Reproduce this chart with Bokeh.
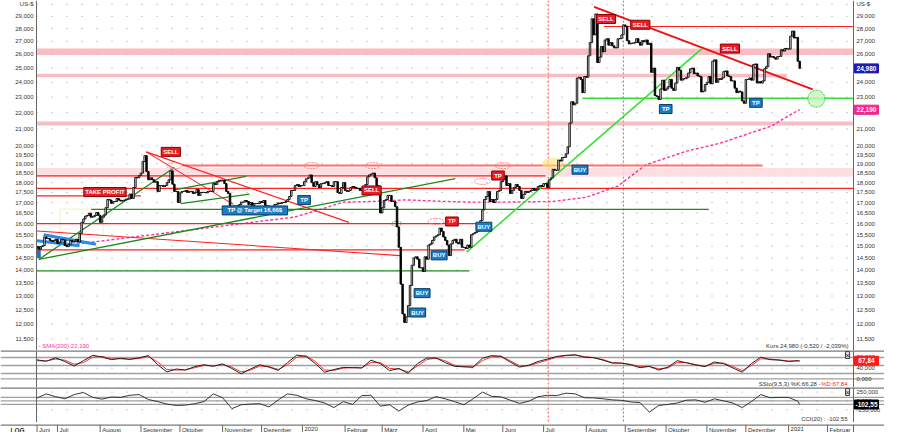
import pandas as pd
from bokeh.plotting import figure
from bokeh.layouts import column
from bokeh.models import Range1d, BoxAnnotation, Span, Label, ColumnDataSource
from bokeh.embed import file_html
from bokeh.resources import INLINE
from bokeh.core.properties import value

FONT = "Liberation Sans"

# ---------------- daily closes (US-$), one list per month ----------------
c_2019_06 = [14.97, 14.87, 14.98, 15.02, 15.40, 15.33, 15.33, 15.25, 15.21, 15.25, 15.30]
c_2019_07 = [15.12, 15.17, 15.29, 15.27, 15.03, 14.98, 15.06, 15.25, 15.18, 15.19, 15.30, 15.18,
             15.56, 16.06, 16.22, 16.35, 16.38, 16.49, 16.30, 16.32, 16.38, 16.52, 16.39]
c_2019_08 = [16.06, 16.30, 16.40, 16.75, 17.15, 17.12, 16.96, 17.05, 17.05, 17.20, 17.12, 17.07,
             17.10, 17.12, 17.17, 17.17, 17.42, 17.20, 17.75, 18.27, 18.25, 18.37]
c_2019_09 = [18.50, 19.12, 19.45, 18.58, 18.15, 18.25, 18.15, 18.02, 18.05, 17.55, 17.85, 17.85,
             17.80, 17.85, 18.00, 18.15, 18.62, 17.92, 17.55, 17.55, 17.00]
c_2019_10 = [17.48, 17.55, 17.55, 17.60, 17.50, 17.55, 17.55, 17.45, 17.50, 17.65, 17.35, 17.50,
             17.50, 17.50, 17.48, 17.55, 17.55, 17.55, 17.95, 17.90, 18.05, 18.12, 18.12]
c_2019_11 = [18.12, 17.95, 17.55, 17.45, 16.70, 16.82, 16.83, 16.78, 16.85, 16.90, 17.02, 17.02,
             17.10, 17.05, 16.90, 17.00, 16.85, 16.95, 16.95, 16.95, 17.05]
c_2019_12 = [17.00, 17.10, 16.85, 16.83, 16.55, 16.65, 16.72, 16.90, 16.92, 16.98, 16.95, 17.00,
             17.00, 17.05, 17.15, 17.30, 17.60, 17.60, 17.85, 17.90, 17.80, 17.85]
c_2020_01 = [17.85, 18.05, 18.20, 18.25, 18.40, 18.00, 17.80, 18.05, 17.90, 17.75, 17.95, 17.95,
             18.00, 18.05, 17.85, 17.85, 17.80, 18.05, 18.05, 17.50, 17.45, 17.75, 18.00]
c_2020_02 = [17.60, 17.55, 17.60, 17.75, 17.80, 17.75, 17.70, 17.70, 17.60, 17.70, 17.75, 17.90,
             18.30, 18.40, 18.45, 18.50, 18.25, 17.85, 17.50, 16.50]
c_2020_03 = [16.75, 17.10, 17.15, 17.35, 17.35, 17.05, 17.05, 16.80, 15.85, 14.95, 13.45, 12.35,
             12.05, 12.25, 12.65, 13.40, 14.20, 14.50, 14.55, 14.45, 14.10, 14.10]
c_2020_04 = [13.95, 14.55, 14.45, 15.05, 15.10, 15.25, 15.40, 15.45, 15.50, 15.80, 15.65, 15.40,
             15.25, 15.05, 14.60, 15.10, 15.25, 15.30, 15.15, 15.10, 15.30, 14.95]
c_2020_05 = [14.95, 14.90, 15.05, 14.95, 15.50, 15.55, 15.60, 15.65, 15.75, 16.15, 16.65, 17.15,
             17.30, 17.55, 17.05, 17.15, 17.00, 17.15, 17.55, 17.60, 18.05]
c_2020_06 = [18.15, 18.35, 17.85, 17.95, 17.45, 17.60, 17.75, 17.90, 17.80, 17.60, 17.20, 17.40,
             17.55, 17.50, 17.55, 17.60, 17.70, 17.60, 17.65, 17.80, 17.85, 17.80]
c_2020_07 = [17.95, 17.95, 17.75, 18.15, 18.25, 18.70, 18.65, 18.65, 19.20, 19.15, 19.35, 19.35,
             19.55, 19.95, 21.35, 22.70, 22.50, 22.60, 24.30, 24.35, 24.20, 23.30, 24.40]
c_2020_08 = [24.35, 25.90, 26.90, 28.80, 27.50, 29.20, 25.40, 25.80, 26.60, 26.20, 27.10, 27.20,
             26.70, 26.90, 26.65, 26.50, 26.50, 27.20, 27.20, 27.50, 28.30]
c_2020_09 = [28.20, 27.05, 26.80, 26.85, 26.85, 26.90, 27.20, 26.90, 26.70, 27.05, 26.95, 27.10,
             26.75, 26.85, 24.70, 25.00, 23.10, 23.05, 22.85, 23.55, 24.15, 23.45]
c_2020_10 = [23.55, 23.70, 24.20, 23.60, 23.45, 23.95, 25.05, 24.85, 24.15, 24.25, 24.25, 24.35,
             24.65, 24.95, 25.00, 24.60, 24.65, 24.45, 24.40, 23.35, 23.40, 23.85]
c_2020_11 = [24.00, 24.40, 23.90, 25.50, 25.60, 24.00, 24.25, 24.20, 24.30, 24.75, 24.80, 24.45,
             24.40, 24.10, 24.10, 23.60, 23.30, 23.40, 23.35, 22.75, 22.60]
c_2020_12 = [24.20, 24.20, 24.30, 24.15, 25.25, 25.30, 23.95, 24.05, 23.95, 24.10, 24.95, 25.10,
             26.05, 25.80, 25.85, 25.75, 25.65, 25.85, 25.85, 26.35, 26.25, 26.45, 26.40]
c_2021_01 = [26.40, 27.40, 27.80, 27.25, 27.30, 25.50, 24.98]

closes = (c_2019_06 + c_2019_07 + c_2019_08 + c_2019_09 + c_2019_10 + c_2019_11 + c_2019_12 +
          c_2020_01 + c_2020_02 + c_2020_03 + c_2020_04 + c_2020_05 + c_2020_06 + c_2020_07 +
          c_2020_08 + c_2020_09 + c_2020_10 + c_2020_11 + c_2020_12 + c_2021_01)

calendar = pd.bdate_range("2019-06-14", "2021-02-26")   # trading-day axis
month_labels = ["Juni", "Juli", "August", "September", "Oktober", "November", "Dezember",
                "2020", "Februar", "März", "April", "Mai", "Juni", "Juli", "August",
                "September", "Oktober", "November", "Dezember", "2021", "Februar"]

# SMA(200) (trading day, value)
sma_day = [16, 60, 139, 156, 165, 181, 199, 217, 234, 252, 278, 296, 313, 328, 350, 368, 386, 396, 403, 411]
sma_val = [15.04, 15.48, 16.31, 16.76, 17.02, 17.05, 17.13, 17.06, 17.02, 17.02, 17.05, 17.26,
           17.82, 18.94, 19.70, 20.15, 20.81, 21.18, 21.67, 22.19]

# oscillators sampled weekly (every 5th trading day) plus the last day
sto_k = [71, 66, 79, 65, 48, 68, 88, 82, 72, 77, 73, 79, 87, 53, 26, 37, 33, 46, 53, 47,
         56, 39, 19, 37, 53, 44, 32, 61, 89, 84, 57, 25, 35, 43, 42, 41, 70, 57, 31, 39,
         21, 57, 78, 78, 61, 47, 45, 44, 77, 87, 84, 63, 44, 51, 65, 74, 84, 88, 90, 81,
         79, 70, 59, 59, 53, 42, 47, 33, 44, 68, 60, 52, 46, 63, 57, 41, 25, 57, 81, 72,
         70, 65, 68, 66.28]
sto_d = [68, 67, 74, 70, 55, 61, 81, 84, 75, 75, 74, 76, 84, 63, 35, 33, 34, 42, 50, 49,
         53, 44, 26, 33, 48, 46, 35, 53, 81, 86, 65, 33, 32, 40, 42, 41, 61, 61, 39, 37,
         26, 48, 72, 78, 67, 51, 46, 44, 68, 83, 85, 68, 49, 49, 60, 70, 81, 87, 89, 83,
         80, 72, 61, 59, 54, 46, 46, 38, 41, 61, 61, 53, 47, 58, 59, 46, 31, 50, 75, 74,
         71, 67, 67, 67.84]
cci = [84, 200, 120, 60, 180, 240, 100, 50, 110, 100, 160, 180, 40, -20, -90, -130, -120, -80, -20, 200,
       90, -220, -110, -90, -80, -170, 30, 200, 160, 60, 10, -60, -190, -20, -100, 150, 160, -150, -110, -290,
       -120, -30, 10, 120, 60, -20, -110, 60, 250, 130, 115, 20, -70, -10, 120, 160, 150, 220, 200, 90,
       84, 60, 30, 15, -30, -50, -320, -130, -100, -60, 20, 30, -40, 60, 0, -60, -190, -20, 180, 90,
       100, 100, -10, -102.55]

# axis ticks
price_ticks = [11.5, 12.0, 12.5, 13.0, 13.5, 14.0, 14.5, 15.0, 15.5, 16.0, 16.5, 17.0, 17.5,
               18.0, 18.5, 19.0, 19.5, 20.0, 21, 22, 23, 24, 25, 26, 27, 28, 29]
unit_tick = 30.02
sto_ticks = [0, 40, 80]
sto_levels = [80, 50, 20, 0]
cci_ticks = [-250, 0, 250]
cci_levels = [100, 0, -100]

# chart levels / trendlines (trading day, price)
band_lo = [25.95, 24.35, 21.20]
band_hi = [26.45, 24.60, 21.45]
band_to = [None, 404, None]
red_lvl = [28.17, 18.35, 17.70, 17.33, 16.00, 14.84]
red_lvl_from = [305.5, 0, 0, 0, 0, 0]
red_lvl_to = [440, 274, 440, 56, 237, 230.5]
red_tr_d0 = [0, 58.8, 58.8]
red_tr_p0 = [15.67, 19.66, 19.66]
red_tr_d1 = [195.5, 168.1, 105.8]
red_tr_p1 = [14.60, 16.06, 16.91]
main_tr = [300.2, 29.8, 418, 23.52]
lime_d0 = [293.9, 231.5]
lime_p0 = [22.93, 14.75]
lime_d1 = [440, 358.3]
lime_p1 = [22.93, 26.44]
dg_d0 = [0, 29.2, 0.9, 0.9, 74, 77.4]
dg_p0 = [13.97, 16.67, 14.44, 14.44, 17.63, 16.95]
dg_d1 = [233, 362, 225.4, 74, 112.7, 114.4]
dg_p1 = [13.97, 16.67, 18.21, 18.80, 18.33, 17.42]
flag_d0 = [0, 3.5]
flag_p0 = [15.23, 15.50]
flag_d1 = [22.9, 31.7]
flag_p1 = [15.02, 15.08]

sig_text = ["SELL", "TAKE PROFIT", "TP @ Target 16,66$", "TP", "SELL", "TP", "BUY", "BUY", "TP",
            "BUY", "BUY", "BUY", "SELL", "SELL", "SELL", "TP", "TP"]
sig_kind = ["s", "s", "b", "b", "s", "s", "b", "b", "s", "b", "b", "b", "s", "s", "s", "b", "b"]
sig_day = [72.1, 36.6, 117.4, 143.9, 180.3, 223.6, 240.8, 216.7, 248.4, 292.6, 207.5, 205.1,
           306.6, 325.1, 373.4, 338.8, 387.4]
sig_price = [19.66, 17.52, 16.62, 17.12, 17.60, 16.10, 15.86, 14.61, 18.37, 18.68, 13.11, 12.40,
             28.78, 28.31, 26.44, 22.23, 22.63]
mark_day = [275.5, 316]
ell_day = [74, 148, 181, 215, 240, 251]
ell_price = [18.9, 18.9, 18.9, 16.1, 18.06, 18.9]

# ---------------- derived ----------------
n = len(closes)
day = list(range(n))
opens = [closes[0]] + closes[:-1]
c_top = [max(o, c) for o, c in zip(opens, closes)]
c_bot = [min(o, c) for o, c in zip(opens, closes)]
c_fill = ["white" if c >= o else "black" for o, c in zip(opens, closes)]
month_pos = [0] + [i for i in range(1, len(calendar)) if calendar[i].month != calendar[i - 1].month]
osc_day = list(range(0, n, 5)) + [n - 1]


def fmt(v):
    return f"{v:.3f}".replace(".", ",")


# layout geometry: plot frames span the whole width, axis strips are drawn by hand
W, LB, RB = 884, 36, 31
X0, X1 = -0.3, 440
S = (W - LB - RB) / (X1 - X0)
xr = Range1d(X0 - LB / S, X1 + RB / S)
BOX_X = X1 + 13 / S          # centre of the value boxes in the right axis strip
PMIN, PMAX = 11.12, 30.35
AX = "#666666"
TXT = "#333333"
GRID = "#9a9a9a"


def mk(h, yr, log=False):
    p = figure(width=W, height=h, x_range=xr, y_range=yr, y_axis_type="log" if log else "linear",
               output_backend="svg", toolbar_location=None, x_axis_location=None,
               y_axis_location=None, min_border=0, min_border_left=0, min_border_right=0,
               min_border_top=0, min_border_bottom=0)
    p.outline_line_color = None
    p.background_fill_color = "white"
    p.border_fill_color = "white"
    p.xgrid.visible = False
    p.ygrid.visible = False
    return p


def axes(p, ticks, labels, ytop, sep=True, left_labels=True):
    k = len(ticks)
    p.segment(x0=[X0] * k, y0=ticks, x1=[X1] * k, y1=ticks, line_color=GRID, line_width=1,
              line_dash="1 14", level="underlay")
    for d in mark_day:
        p.add_layout(Span(location=d, dimension="height", line_color="#ff4d4d",
                          line_dash="2 2", line_width=1, level="underlay"))
    for xx in (X0, X1):
        p.add_layout(Span(location=xx, dimension="height", line_color=AX, line_width=1))
    if sep:
        p.add_layout(Span(location=ytop, dimension="width", line_color="#7a7a7a", line_width=2.5))
    if left_labels:
        p.text(x=[X0] * k, y=ticks, text=labels, x_offset=-3, text_align="right",
               text_baseline="middle", text_font_size="6px", text_font=value(FONT), text_color=TXT)
    p.text(x=[X1] * k, y=ticks, text=labels, x_offset=3, text_align="left", text_baseline="middle",
           text_font_size="6px", text_font=value(FONT), text_color=TXT)


def value_box(p, y, txt, bg):
    p.rect(x=[BOX_X], y=[y], width=24, height=9, width_units="screen", height_units="screen",
           fill_color=bg, line_color=bg)
    p.text(x=[BOX_X], y=[y], text=[txt], text_align="center", text_baseline="middle",
           text_color="white", text_font_size="6.5px", text_font=value(FONT), text_font_style="bold")


# ---------------- price panel ----------------
p1 = mk(350, Range1d(PMIN, PMAX), log=True)
all_ticks = price_ticks + [unit_tick]
axes(p1, all_ticks, [fmt(t) for t in price_ticks] + ["US-$"], PMAX, sep=False)

for lo, hi, to in zip(band_lo, band_hi, band_to):
    p1.add_layout(BoxAnnotation(bottom=lo, top=hi, left=X0, right=to if to is not None else X1,
                                fill_color="#f7a8b0", fill_alpha=0.75, line_color=None,
                                level="underlay"))
p1.add_layout(BoxAnnotation(bottom=18.30, top=18.77, left=X0, right=X1, fill_color="#fdd9dc",
                            fill_alpha=0.85, line_color=None, level="underlay"))
p1.add_layout(BoxAnnotation(left=0, right=2, bottom=14.5, top=15.0, fill_color="#1f6fc0",
                            fill_alpha=1, line_color=None, level="underlay"))
p1.add_layout(BoxAnnotation(left=12.3, right=35.6, bottom=15.37, top=16.68, fill_color=None,
                            line_color="#f2c21b", line_width=1, level="underlay"))

# SMA 200
p1.line(sma_day, sma_val, line_color="#ff2fa0", line_width=1.4, line_dash="3 2")

# levels and trendlines
p1.segment(x0=[78.4], y0=[18.9], x1=[391], y1=[18.9], line_color="#ff7070", line_width=2)
p1.segment(x0=red_lvl_from, y0=red_lvl, x1=red_lvl_to, y1=red_lvl, line_color="#ff2020", line_width=1.2)
p1.segment(x0=red_tr_d0, y0=red_tr_p0, x1=red_tr_d1, y1=red_tr_p1, line_color="#ff2020", line_width=1.1)
p1.segment(x0=[main_tr[0]], y0=[main_tr[1]], x1=[main_tr[2]], y1=[main_tr[3]],
           line_color="#ee1111", line_width=2)
p1.segment(x0=dg_d0, y0=dg_p0, x1=dg_d1, y1=dg_p1, line_color="#1a8a1a", line_width=1.3)
p1.segment(x0=lime_d0, y0=lime_p0, x1=lime_d1, y1=lime_p1, line_color="#33e033", line_width=1.6)
p1.segment(x0=flag_d0, y0=flag_p0, x1=flag_d1, y1=flag_p1, line_color="#2b8ae6", line_width=3)

# ellipses / marks
p1.ellipse(x=ell_day, y=ell_price, width=16, height=6, width_units="screen", height_units="screen",
           fill_color=None, line_color="#ff7f7f", line_dash="2 1", line_width=1)
p1.ellipse(x=[193.7], y=[16.0], width=10, height=5, width_units="screen", height_units="screen",
           fill_color=None, line_color="#44bb44", line_dash="2 1", line_width=1)
p1.ellipse(x=[278], y=[19.0], width=22, height=12, width_units="screen", height_units="screen",
           fill_color="#ffe37a", fill_alpha=0.6, line_color=None)
p1.ellipse(x=[420], y=[22.9], width=17, height=17, width_units="screen", height_units="screen",
           fill_color="#c8f5c0", fill_alpha=0.8, line_color="#33cc33", line_dash="2 1", line_width=1)

# candles
p1.vbar(x=day, top=c_top, bottom=c_bot, width=0.8, fill_color=c_fill, line_color="black",
        line_width=0.9)

# signal boxes
sig = ColumnDataSource(dict(x=sig_day, y=sig_price, t=sig_text,
                            w=[3.3 * len(t) + 6 for t in sig_text],
                            f=["#ec1c24" if k == "s" else "#1c7cc4" for k in sig_kind],
                            l=["#8a0000" if k == "s" else "#0b3c66" for k in sig_kind]))
p1.rect(x="x", y="y", width="w", height=9, width_units="screen", height_units="screen",
        fill_color="f", line_color="l", line_width=1, source=sig)
p1.text(x="x", y="y", text="t", text_align="center", text_baseline="middle", text_color="white",
        text_font_size="6px", text_font_style="bold", text_font=value(FONT), source=sig)

p1.add_layout(Label(x=X0, y=PMIN, x_offset=2, y_offset=2, text="- SMA(200):22,190",
                    text_color="#ff2fa0", text_font_size="6px", text_font=FONT, text_baseline="bottom"))
p1.add_layout(Label(x=X1, y=PMIN, x_offset=-5, y_offset=2, text="Kurs 24,980 (-0,520 / -2,039%)",
                    text_align="right", text_color=TXT, text_font_size="6px", text_font=FONT,
                    text_baseline="bottom"))
value_box(p1, closes[-1], fmt(closes[-1]), "#1c1cb4")
value_box(p1, sma_val[-1], fmt(sma_val[-1]), "#f0288c")

# ---------------- stochastic panel ----------------
S_LO, S_HI = -32, 106
p2 = mk(37, Range1d(S_LO, S_HI))
axes(p2, sto_ticks, [fmt(t) for t in sto_ticks], S_HI, left_labels=False)
for lv in sto_levels:
    p2.add_layout(Span(location=lv, dimension="width", line_color="#a0a0a0", line_width=1.4,
                       level="underlay"))
p2.line(osc_day, sto_d, line_color="#ff3030", line_width=1)
p2.line(osc_day, sto_k, line_color="#222222", line_width=1)
p2.add_layout(Label(x=X1, y=S_LO, x_offset=-33, y_offset=1, text="SSto(9,5,3) %K:66,28 -",
                    text_align="right", text_color=TXT, text_font_size="6px", text_font=FONT,
                    text_baseline="bottom"))
p2.add_layout(Label(x=X1, y=S_LO, x_offset=-6, y_offset=1, text="%D:67,84", text_align="right",
                    text_color="#ff2020", text_font_size="6px", text_font=FONT, text_baseline="bottom"))
value_box(p2, sto_d[-1], "67,84", "#ff1a1a")
p2.add_layout(Label(x=X1, y=S_HI, x_offset=-8, y_offset=-8, text="×", text_color="#222",
                    text_font_size="7px", text_font=FONT, background_fill_color="#dddddd",
                    border_line_color="#444444"))

# ---------------- CCI panel ----------------
C_LO, C_HI = -614, 381
p3 = mk(35, Range1d(C_LO, C_HI))
axes(p3, cci_ticks, [fmt(t) for t in cci_ticks], C_HI, left_labels=False)
for lv in cci_levels:
    p3.add_layout(Span(location=lv, dimension="width", line_color="#a0a0a0", line_width=1.4,
                       level="underlay"))
p3.line(osc_day, cci, line_color="#222222", line_width=0.9)
p3.add_layout(Label(x=X1, y=C_LO, x_offset=-6, y_offset=1, text="CCI(20) : -102,55",
                    text_align="right", text_color=TXT, text_font_size="6px", text_font=FONT,
                    text_baseline="bottom"))
value_box(p3, cci[-1], "-102,55", "#000000")
p3.add_layout(Label(x=X1, y=C_HI, x_offset=-8, y_offset=-8, text="×", text_color="#222",
                    text_font_size="7px", text_font=FONT, background_fill_color="#dddddd",
                    border_line_color="#444444"))

# ---------------- date strip ----------------
p4 = mk(10, Range1d(0, 1))
p4.add_layout(Span(location=1, dimension="width", line_color="#7a7a7a", line_width=2.5))
m = len(month_pos)
p4.segment(x0=month_pos, y0=[0] * m, x1=month_pos, y1=[1] * m, line_color=AX, line_width=1)
p4.add_layout(Span(location=X1, dimension="height", line_color=AX, line_width=1))
p4.text(x=month_pos, y=[1] * m, text=month_labels, x_offset=2, y_offset=2, text_align="left",
        text_baseline="top", text_font_size="6px", text_font=value(FONT), text_color=TXT)
p4.text(x=[X0], y=[1], text=["LOG"], x_offset=-19, y_offset=2, text_align="center",
        text_baseline="top", text_font_size="6.5px", text_font=value(FONT), text_font_style="bold",
        text_color=TXT)

layout = column(p1, p2, p3, p4, spacing=0)
open("out.html", "w").write(file_html(layout, INLINE))
